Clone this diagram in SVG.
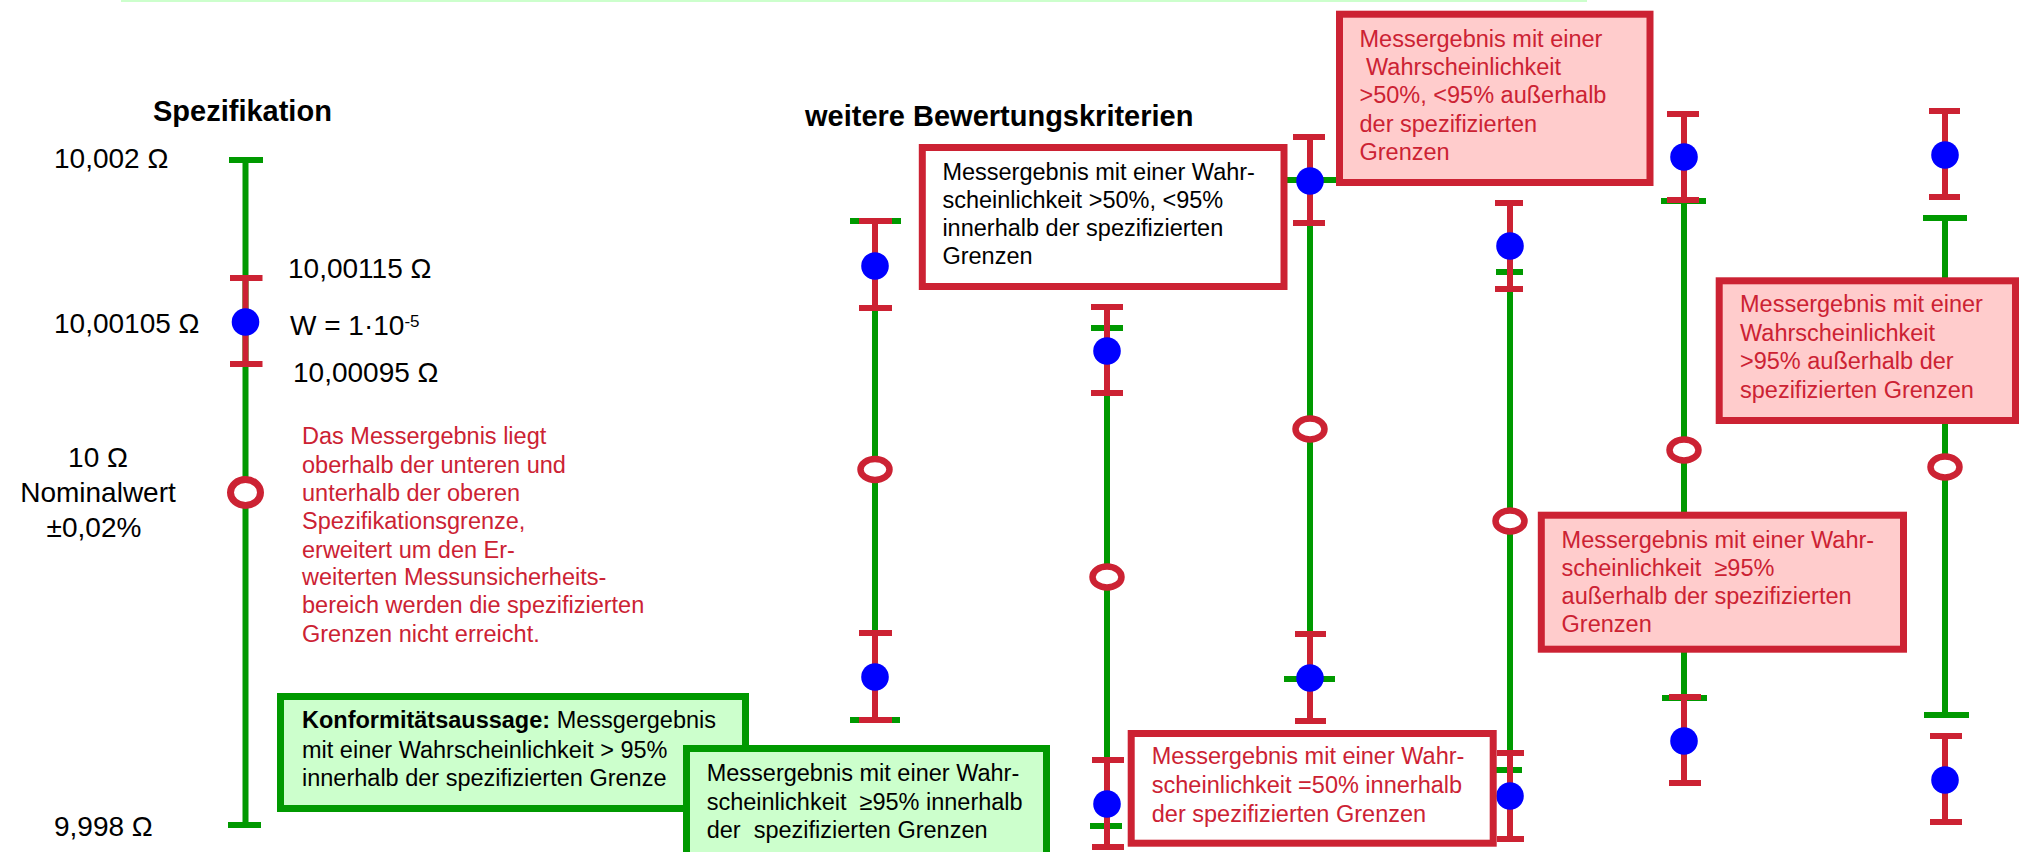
<svg xmlns="http://www.w3.org/2000/svg" width="2027" height="852" viewBox="0 0 2027 852">
<style>
.g{stroke:#009900;stroke-width:6;fill:none}
.r{stroke:#cc2233;stroke-width:6;fill:none}
.dot{fill:#0000ff}
.oc{fill:#ffffff;stroke:#cc2233;stroke-width:6.5}
.bg{fill:#ccffcc;stroke:#009900;stroke-width:7}
.bw{fill:#ffffff;stroke:#cc2233;stroke-width:7}
.bp{fill:#ffcccc;stroke:#cc2233;stroke-width:7}
text{font-family:"Liberation Sans",Arial,Helvetica,sans-serif}
.t{font-size:23.5px}
.k{fill:#000000}
.red{fill:#cc2233}
.lab{font-size:28px;fill:#000000}
.hd{font-size:29px;font-weight:bold;fill:#000000}
</style>
<rect width="2027" height="852" fill="#ffffff"/>
<rect x="121" y="0" width="1466" height="2" fill="#ccffcc"/>

<g id="headings">
<text class="hd" x="153" y="121">Spezifikation</text>
<text class="hd" x="805" y="126">weitere Bewertungskriterien</text>
</g>

<g id="spec-axis">
<path class="g" d="M245.5 160V825M229 160H263M228 825H261"/>
<path class="r" d="M245.5 278V364M230 278H262.5M230 364H262.5"/>
<circle class="dot" cx="245.5" cy="322" r="13.8"/>
<ellipse class="oc" cx="245.5" cy="492.5" rx="15" ry="13" style="stroke-width:7"/>
</g>

<g id="spec-labels">
<text class="lab" x="54" y="168">10,002 Ω</text>
<text class="lab" x="288" y="278">10,00115 Ω</text>
<text class="lab" x="54" y="333">10,00105 Ω</text>
<text class="lab" x="290" y="335">W = 1·10<tspan font-size="17" dy="-8">-5</tspan></text>
<text class="lab" x="293" y="382">10,00095 Ω</text>
<text class="lab" x="98" y="467" text-anchor="middle">10 Ω</text>
<text class="lab" x="98" y="502" text-anchor="middle">Nominalwert</text>
<text class="lab" x="94" y="537" text-anchor="middle">±0,02%</text>
<text class="lab" x="54" y="836">9,998 Ω</text>
</g>

<g id="spec-note" class="t red">
<text x="302" y="444">Das Messergebnis liegt</text>
<text x="302" y="472.7">oberhalb der unteren und</text>
<text x="302" y="501">unterhalb der oberen</text>
<text x="302" y="529">Spezifikationsgrenze,</text>
<text x="302" y="557.7">erweitert um den Er-</text>
<text x="302" y="585">weiterten Messunsicherheits-</text>
<text x="302" y="613.3">bereich werden die spezifizierten</text>
<text x="302" y="641.7">Grenzen nicht erreicht.</text>
</g>

<g id="axis-a">
<path class="g" d="M875 221V720M850 221H901M850 720H900"/>
<path class="r" d="M875 221V308M859 221H892M859 308H892M875 633V720M859 633H892M859 720H892"/>
<circle class="dot" cx="875" cy="266" r="13.8"/>
<circle class="dot" cx="875" cy="677" r="13.8"/>
<ellipse class="oc" cx="875" cy="469.5" rx="14.5" ry="10.5"/>
</g>

<g id="axis-b">
<path class="g" d="M1107 328V826M1091 328H1123M1090 826H1122"/>
<path class="r" d="M1107 307V393M1091 307H1123M1091 393H1123M1107 760V847M1092 760H1124M1092 847H1124"/>
<circle class="dot" cx="1107" cy="351" r="13.8"/>
<circle class="dot" cx="1107" cy="804" r="13.8"/>
<ellipse class="oc" cx="1107" cy="577" rx="14.5" ry="10.5"/>
</g>

<g id="axis-c">
<path class="g" d="M1310 180V679M1285 180H1336M1284 679H1335"/>
<path class="r" d="M1310 137V223M1293 137H1325M1293 223H1325M1310 634V721M1295 634H1326M1295 721H1326"/>
<circle class="dot" cx="1310" cy="181" r="13.8"/>
<circle class="dot" cx="1310" cy="678" r="13.8"/>
<ellipse class="oc" cx="1310" cy="429" rx="14.5" ry="10.5"/>
</g>

<g id="axis-d">
<path class="g" d="M1510 272V770M1496 272H1523M1495 770H1522"/>
<path class="r" d="M1510 203V289M1495 203H1523M1495 289H1523M1510 753V839M1497 753H1524M1497 839H1524"/>
<circle class="dot" cx="1510" cy="246" r="13.8"/>
<circle class="dot" cx="1510" cy="796" r="13.8"/>
<ellipse class="oc" cx="1510" cy="521" rx="14.5" ry="10.5"/>
</g>

<g id="axis-e">
<path class="g" d="M1684 201V698M1661 201H1706M1662 698H1707"/>
<path class="r" d="M1684 114V200M1667 114H1699M1667 200H1699M1684 697V783M1669 697H1701M1669 783H1701"/>
<circle class="dot" cx="1684" cy="157" r="13.8"/>
<circle class="dot" cx="1684" cy="741" r="13.8"/>
<ellipse class="oc" cx="1684" cy="450" rx="14.5" ry="10.5"/>
</g>

<g id="axis-f">
<path class="g" d="M1945 218V715M1923 218H1967M1924 715H1969"/>
<path class="r" d="M1945 111V197M1929 111H1960M1929 197H1960M1945 736V822M1930 736H1962M1930 822H1962"/>
<circle class="dot" cx="1945" cy="155" r="13.8"/>
<circle class="dot" cx="1945" cy="780" r="13.8"/>
<ellipse class="oc" cx="1945" cy="467" rx="14.5" ry="10.5"/>
</g>

<g id="box-conformity">
<rect class="bg" x="280.5" y="696.5" width="465" height="112"/>
<text class="t k" x="302" y="728.3"><tspan font-weight="bold">Konformitätsaussage:</tspan> Messgergebnis</text>
<text class="t k" x="302" y="757.7">mit einer Wahrscheinlichkeit &gt; 95%</text>
<text class="t k" x="302" y="785.7">innerhalb der spezifizierten Grenze</text>
</g>

<g id="box-ge95-inside">
<rect class="bg" x="686.5" y="748.5" width="360" height="120"/>
<text class="t k" x="706.7" y="781">Messergebnis mit einer Wahr-</text>
<text class="t k" x="706.7" y="810" xml:space="preserve">scheinlichkeit  ≥95% innerhalb</text>
<text class="t k" x="706.7" y="837.7" xml:space="preserve">der  spezifizierten Grenzen</text>
</g>

<g id="box-50-95-inside">
<rect class="bw" x="922.3" y="147.5" width="361.7" height="139"/>
<text class="t k" x="942.4" y="180">Messergebnis mit einer Wahr-</text>
<text class="t k" x="942.4" y="208.3">scheinlichkeit &gt;50%, &lt;95%</text>
<text class="t k" x="942.4" y="236">innerhalb der spezifizierten</text>
<text class="t k" x="942.4" y="264">Grenzen</text>
</g>

<g id="box-50-95-outside">
<rect class="bp" x="1339.5" y="14.2" width="310.5" height="168.3"/>
<text class="t red" x="1359.5" y="46.7">Messergebnis mit einer</text>
<text class="t red" x="1366" y="75">Wahrscheinlichkeit</text>
<text class="t red" x="1359.5" y="103.3">&gt;50%, &lt;95% außerhalb</text>
<text class="t red" x="1359.5" y="131.7">der spezifizierten</text>
<text class="t red" x="1359.5" y="160">Grenzen</text>
</g>

<g id="box-gt95-outside">
<rect class="bp" x="1719.2" y="280.8" width="296.3" height="139.7"/>
<text class="t red" x="1740" y="312.3">Messergebnis mit einer</text>
<text class="t red" x="1740" y="340.7">Wahrscheinlichkeit</text>
<text class="t red" x="1740" y="369.3">&gt;95% außerhalb der</text>
<text class="t red" x="1740" y="397.7">spezifizierten Grenzen</text>
</g>

<g id="box-ge95-outside">
<rect class="bp" x="1541.3" y="515.2" width="362.2" height="134"/>
<text class="t red" x="1561.6" y="547.7">Messergebnis mit einer Wahr-</text>
<text class="t red" x="1561.6" y="575.7" xml:space="preserve">scheinlichkeit  ≥95%</text>
<text class="t red" x="1561.6" y="603.7">außerhalb der spezifizierten</text>
<text class="t red" x="1561.6" y="631.7">Grenzen</text>
</g>

<g id="box-eq50-inside">
<rect class="bw" x="1131.2" y="733.5" width="362" height="109.7"/>
<text class="t red" x="1151.8" y="764.3">Messergebnis mit einer Wahr-</text>
<text class="t red" x="1151.8" y="793.3">scheinlichkeit =50% innerhalb</text>
<text class="t red" x="1151.8" y="821.7">der spezifizierten Grenzen</text>
</g>

<g id="connectors"></g>
</svg>
